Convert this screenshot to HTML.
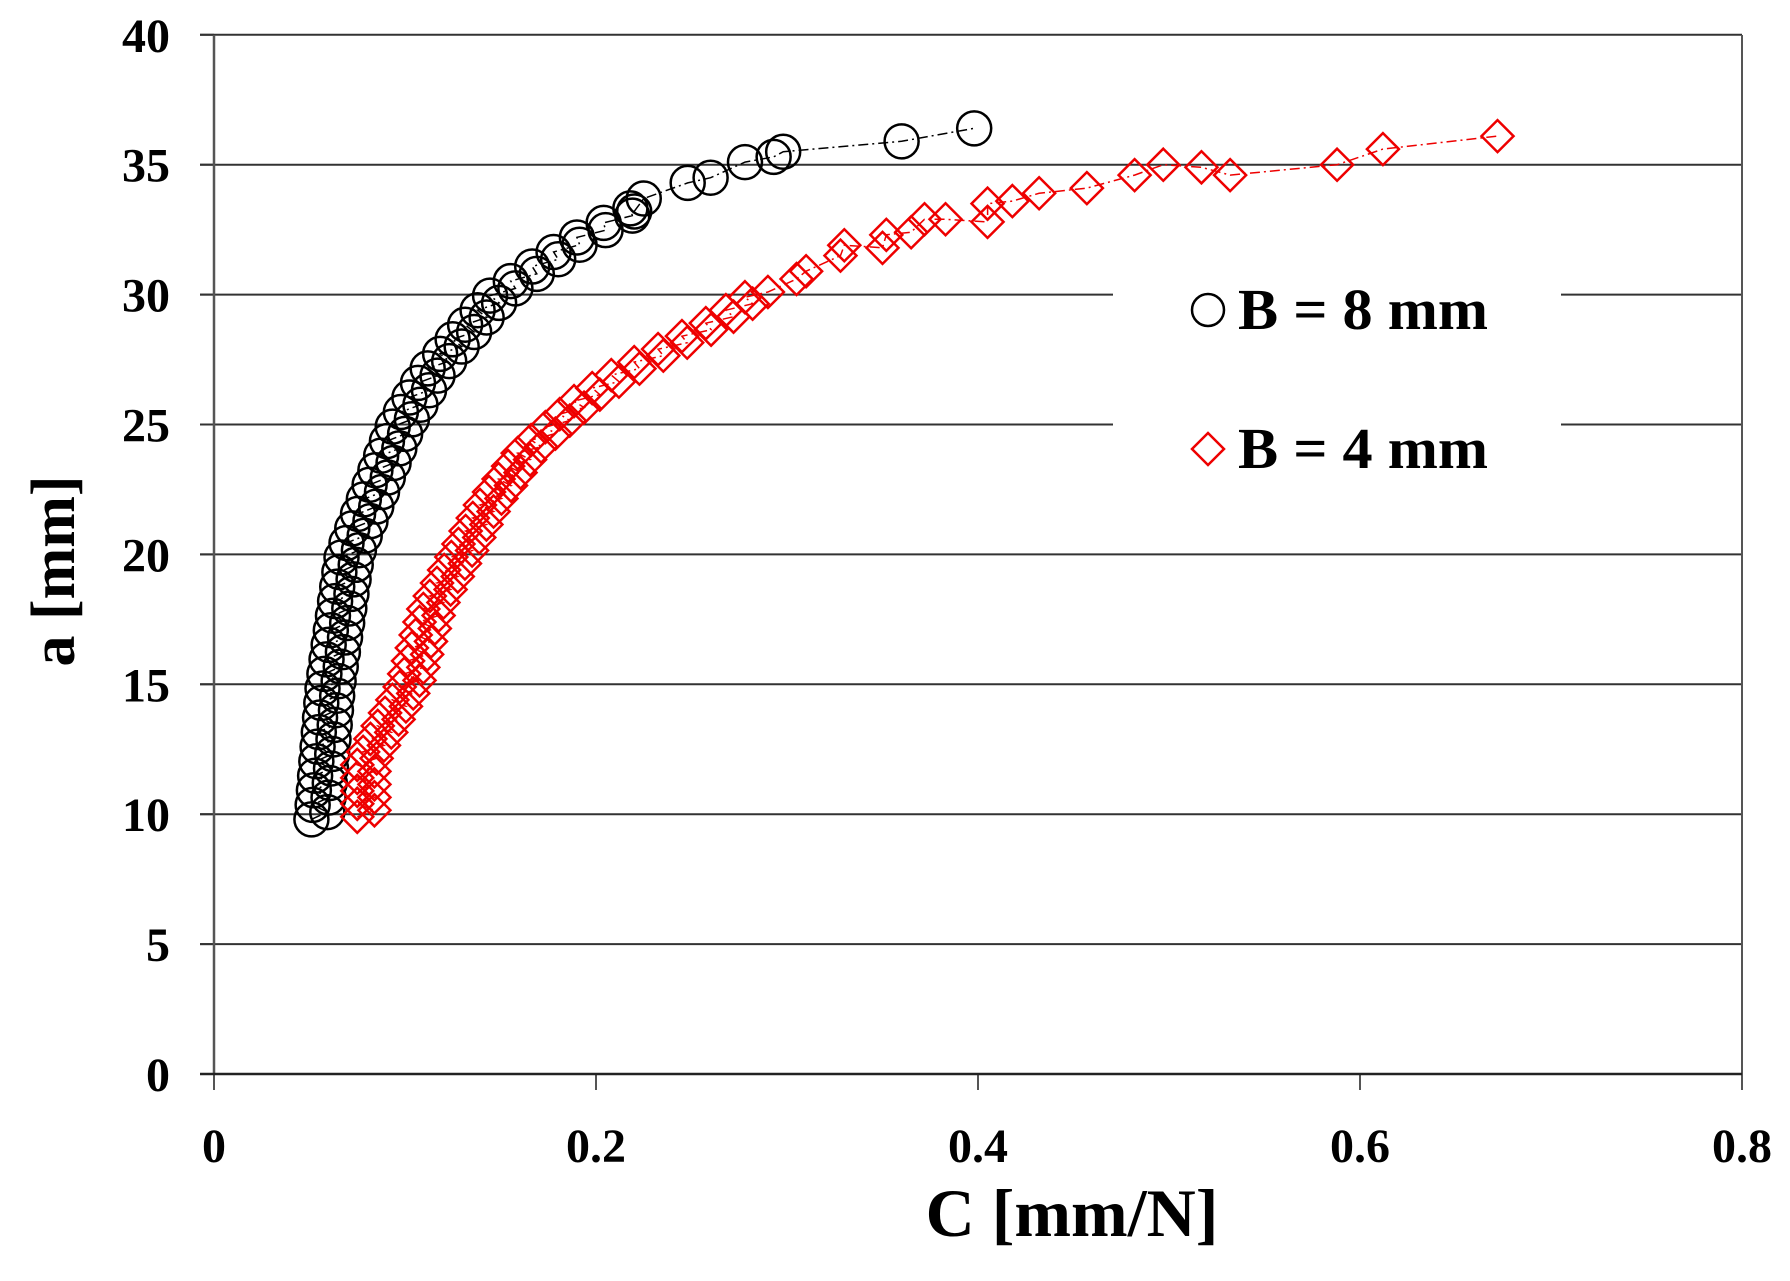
<!DOCTYPE html>
<html><head><meta charset="utf-8"><style>
html,body{margin:0;padding:0;background:#fff;}
svg text{font-family:"Liberation Serif",serif;font-weight:bold;fill:#000;}
</style></head><body>
<svg id="s" width="1790" height="1276" viewBox="0 0 1790 1276" xmlns="http://www.w3.org/2000/svg">
<rect width="1790" height="1276" fill="#fff"/>
<g id="grid" stroke="#000" stroke-width="2"></g>
<line x1="214" y1="35" x2="214" y2="1074" stroke="#555" stroke-width="2.5"/>
<line x1="1742" y1="35" x2="1742" y2="1074" stroke="#555" stroke-width="2"/>
<line x1="200" y1="1074" x2="1742" y2="1074" stroke="#222" stroke-width="2.5"/>
<g id="yl" font-size="48" text-anchor="end"></g>
<g id="xl" font-size="48" text-anchor="middle"></g>
<text x="1072" y="1236" font-size="68" text-anchor="middle">C [mm/N]</text>
<text transform="translate(74,571) rotate(-90)" font-size="62" text-anchor="middle">a [mm]</text>
<g id="data"></g>
<rect x="1113" y="270" width="448" height="200" fill="#fff"/>
<circle cx="1208" cy="310" r="16" fill="none" stroke="#000" stroke-width="2.5"/>
<text x="1238" y="329" font-size="58" textLength="250" lengthAdjust="spacingAndGlyphs">B = 8 mm</text>
<path d="M1208 433 l16 16 l-16 16 l-16 -16 z" fill="none" stroke="#e00" stroke-width="2.5"/>
<text x="1238" y="468" font-size="58" textLength="250" lengthAdjust="spacingAndGlyphs">B = 4 mm</text>
</svg>
<script>
var NS="http://www.w3.org/2000/svg";
function el(t,a,p){var e=document.createElementNS(NS,t);for(var k in a)e.setAttribute(k,a[k]);p.appendChild(e);return e;}
function X(c){return 214+c*1910;}function Y(a){return 1074-a*25.98;}
var g=document.getElementById('grid');
for(var i=1;i<=8;i++){el('line',{x1:200,x2:1742,y1:Y(i*5),y2:Y(i*5),stroke:'#333','stroke-width':2},g);}
for(var i=0;i<=8;i++){el('line',{x1:200,x2:214,y1:Y(i*5),y2:Y(i*5),stroke:'#333','stroke-width':2},g);
 var t=el('text',{x:170,y:Y(i*5)+17},document.getElementById('yl'));t.textContent=i*5;}
var xs=['0','0.2','0.4','0.6','0.8'];
for(var i=0;i<5;i++){var x=X(i*0.2);el('line',{x1:x,x2:x,y1:1074,y2:1090,stroke:'#555','stroke-width':2},g);
 var t=el('text',{x:x,y:1162},document.getElementById('xl'));t.textContent=xs[i];}
function interp(anc,a){for(var i=0;i<anc.length-1;i++){if(a<=anc[i+1][0]){var f=(a-anc[i][0])/(anc[i+1][0]-anc[i][0]);return anc[i][1]+f*(anc[i+1][1]-anc[i][1]);}}return anc[anc.length-1][1];}
var bA=[[9.8,0.051],[15,0.057],[20,0.067],[25,0.094],[27,0.11],[30,0.145],[32,0.185],[33,0.21],[34,0.235]];
var bp=[];var k=0;for(var a=9.8;a<=33.6;a+=0.28){var j=(k++%2)?0.008:0;bp.push([interp(bA,a)+j,a]);}
bp=bp.concat([[0.22,33.2],[0.225,33.7],[0.248,34.3],[0.26,34.5],[0.278,35.1],[0.293,35.3],[0.298,35.5],[0.36,35.9],[0.398,36.4]]);
var rA=[[9.8,0.075],[12,0.075],[15,0.098],[18,0.11],[20,0.125],[22,0.14],[24,0.16],[25,0.175],[26,0.19],[27,0.21],[28,0.235],[29,0.26],[30,0.28]];
var rp=[];k=0;for(var a=9.9;a<=30;a+=0.25){var j=(k++%2)?0.009:0;rp.push([interp(rA,a)+j,a]);}
rp=rp.concat([[0.29,30.1],[0.305,30.6],[0.31,30.9],[0.328,31.5],[0.33,31.9],[0.35,31.8],[0.352,32.3],[0.365,32.4],[0.372,32.9],[0.383,32.9],[0.405,32.8],[0.405,33.5],[0.418,33.6],[0.432,33.9],[0.457,34.1],[0.482,34.6],[0.497,35],[0.517,34.9],[0.532,34.6],[0.588,35],[0.612,35.6],[0.672,36.1]]);
var d=document.getElementById('data');
function line(pts,col){var s='';pts.forEach(function(p,i){s+=(i?'L':'M')+X(p[0]).toFixed(1)+' '+Y(p[1]).toFixed(1);});el('path',{d:s,fill:'none',stroke:col,'stroke-width':1.5,'stroke-dasharray':'10 4 2 4'},d);}
line(bp,'#000');line(rp,'#e00');
bp.forEach(function(p){el('circle',{cx:X(p[0]),cy:Y(p[1]),r:17,fill:'none',stroke:'#000','stroke-width':2.5},d);});
rp.forEach(function(p){var x=X(p[0]),y=Y(p[1]);el('path',{d:'M'+x+' '+(y-16)+' l16 16 l-16 16 l-16 -16 z',fill:'none',stroke:'#e00','stroke-width':2.5},d);});
</script>
</body></html>
